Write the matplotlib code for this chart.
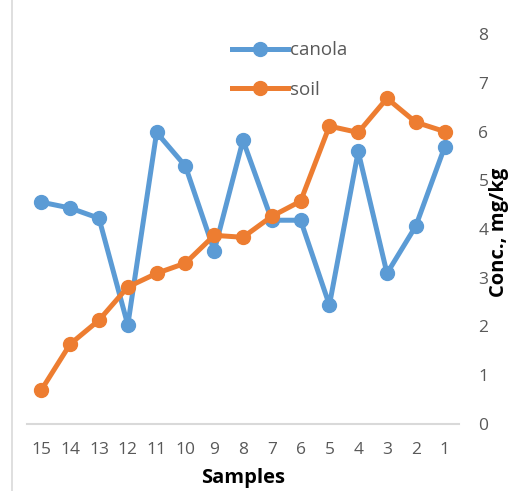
import matplotlib.pyplot as plt
from matplotlib.lines import Line2D

# sample ids, shown in reverse order like the original sheet
samples = ['15', '14', '13', '12', '11', '10', '9', '8', '7', '6', '5', '4', '3', '2', '1']
canola = [4.55, 4.43, 4.22, 2.03, 5.98, 5.29, 3.55, 5.82, 4.18, 4.18, 2.44, 5.59, 3.09, 4.06, 5.68]
soil = [0.70, 1.64, 2.13, 2.81, 3.09, 3.30, 3.87, 3.83, 4.26, 4.57, 6.11, 5.98, 6.68, 6.19, 6.00]

blue = '#5B9BD5'
orange = '#ED7D31'
grey = '#595959'

plt.rcParams['font.family'] = ['Open Sans', 'DejaVu Sans']

fig = plt.figure(figsize=(5.08, 4.91), dpi=100)
ax = fig.add_axes([27 / 508, 1 - 424 / 491, 432 / 508, 390 / 491])

x = range(len(samples))
ax.plot(x, canola, color=blue, lw=3.6, marker='o', ms=10, label='canola', zorder=3)
ax.plot(x, soil, color=orange, lw=3.6, marker='o', ms=10, label='soil', zorder=3)

ax.set_xlim(-0.5, len(samples) - 0.5)
ax.set_ylim(0, 8)
ax.set_xticks(list(x))
ax.set_xticklabels(samples)
ax.set_yticks(range(0, 9))

for s in ['top', 'left', 'right']:
    ax.spines[s].set_visible(False)
ax.spines['bottom'].set_color('#D9D9D9')
ax.spines['bottom'].set_linewidth(1.5)

ax.yaxis.tick_right()
ax.tick_params(axis='both', length=0, labelsize=12.5, colors=grey)
ax.tick_params(axis='y', pad=14)
ax.tick_params(axis='x', pad=13)

ax.set_xlabel('Samples', fontsize=14.5, fontweight='bold', labelpad=7)
fig.text(499 / 508, 1 - 232 / 491, 'Conc., mg/kg', rotation=90, fontsize=14.5,
         fontweight='bold', ha='center', va='center')

handles = [Line2D([0], [0], color=blue, lw=3.6, marker='o', ms=10),
           Line2D([0], [0], color=orange, lw=3.6, marker='o', ms=10)]
leg = ax.legend(handles, ['canola', 'soil'], loc='upper left',
                bbox_to_anchor=(188 / 432, 1.025), frameon=False, fontsize=13.5,
                handlelength=3.0, handletextpad=0.1, labelspacing=1.15)
for t in leg.get_texts():
    t.set_color(grey)

# chart area border line on the left
fig.add_artist(Line2D([12 / 508, 12 / 508], [0, 1], color='#D9D9D9', lw=1.2))

fig.savefig('out.png', dpi=100)
